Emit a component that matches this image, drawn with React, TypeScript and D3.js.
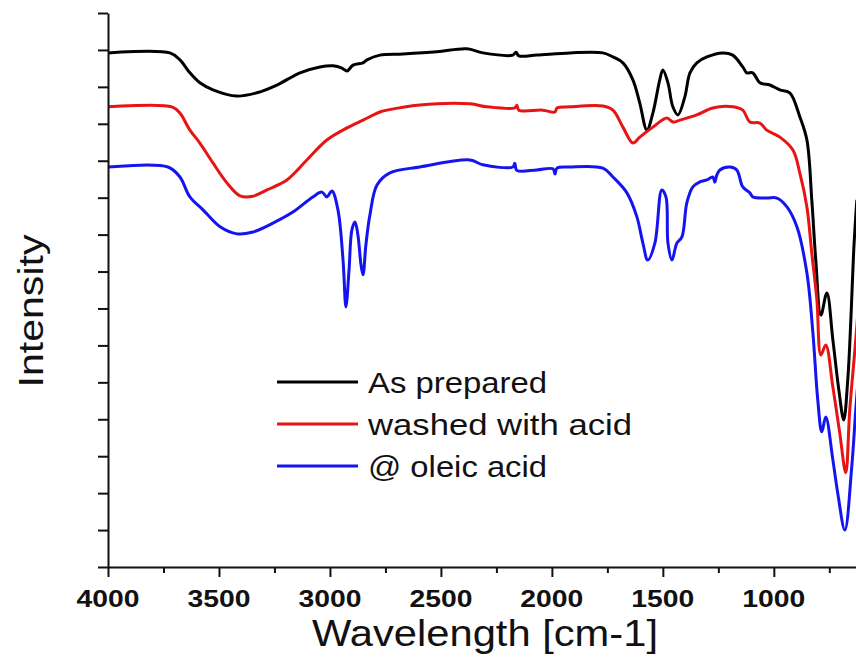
import React, { useEffect, useRef } from "react";
import * as d3 from "d3";

const WIDTH = 856;
const HEIGHT = 672;

const seriesNames = ["As prepared", "washed with acid", "@ oleic acid"];
const seriesColors = ["#000000", "#e81414", "#1414f0"];

// wavenumber [cm-1] and intensity (a.u.)
const asPreparedWn = [4000, 3721, 3676, 3631, 3586, 3527, 3419, 3329, 3239, 3135, 3045, 2986, 2946, 2923, 2896, 2851, 2833, 2775, 2671, 2518, 2383, 2311, 2176, 2162, 2149, 2068, 1919, 1770, 1725, 1680, 1635, 1604, 1572, 1545, 1514, 1500, 1477, 1455, 1432, 1401, 1378, 1347, 1302, 1230, 1185, 1140, 1122, 1095, 1063, 1018, 973, 928, 883, 851, 829, 811, 788, 761, 734, 707, 685, 667, 653, 640, 626];
const asPreparedI = [13.92, 13.92, 13.73, 13.38, 13.11, 12.92, 12.75, 12.84, 13.05, 13.38, 13.54, 13.57, 13.51, 13.43, 13.59, 13.65, 13.73, 13.86, 13.89, 13.95, 14.03, 13.92, 13.86, 13.94, 13.84, 13.86, 13.92, 13.92, 13.81, 13.65, 13.19, 12.56, 11.83, 12.29, 13.19, 13.46, 13.11, 12.46, 12.24, 12.73, 13.38, 13.65, 13.81, 13.92, 13.86, 13.54, 13.38, 13.38, 13.11, 13.05, 12.92, 12.84, 12.19, 11.56, 9.94, 8.31, 6.82, 7.42, 6.15, 4.79, 3.98, 5.06, 6.69, 8.58, 9.94];

const washedWn = [4000, 3712, 3676, 3631, 3586, 3527, 3464, 3405, 3347, 3284, 3194, 3104, 3014, 2923, 2851, 2775, 2743, 2595, 2369, 2293, 2167, 2158, 2149, 2041, 1986, 1977, 1919, 1770, 1725, 1680, 1635, 1604, 1545, 1482, 1455, 1423, 1347, 1275, 1185, 1140, 1108, 1063, 1032, 973, 914, 883, 851, 829, 806, 788, 766, 734, 703, 676, 658, 631, 617];
const washedI = [12.46, 12.46, 12.29, 11.83, 11.48, 10.94, 10.4, 10.05, 10.04, 10.21, 10.48, 11.02, 11.56, 11.89, 12.1, 12.32, 12.37, 12.51, 12.54, 12.46, 12.43, 12.5, 12.37, 12.37, 12.32, 12.43, 12.46, 12.48, 12.37, 11.91, 11.48, 11.64, 11.91, 12.16, 12.05, 12.1, 12.24, 12.43, 12.46, 12.37, 12.05, 12.02, 11.83, 11.64, 11.29, 10.67, 9.75, 8.5, 7.23, 5.74, 6.01, 4.87, 3.63, 2.55, 4.25, 6.15, 7.23];

const oleicWn = [4000, 3730, 3676, 3631, 3572, 3495, 3419, 3347, 3257, 3167, 3077, 3036, 3014, 2991, 2964, 2941, 2928, 2914, 2901, 2887, 2874, 2860, 2851, 2838, 2820, 2788, 2730, 2595, 2369, 2311, 2176, 2167, 2158, 2068, 1995, 1986, 1977, 1919, 1770, 1725, 1662, 1617, 1590, 1568, 1536, 1505, 1486, 1477, 1459, 1437, 1414, 1392, 1365, 1333, 1302, 1275, 1266, 1257, 1243, 1198, 1167, 1140, 1108, 1095, 1032, 986, 941, 896, 851, 824, 802, 784, 766, 734, 712, 680, 649, 631, 617];
const oleicI = [10.83, 10.83, 10.56, 10.02, 9.67, 9.21, 9.02, 9.07, 9.31, 9.61, 10.02, 10.15, 10.02, 10.18, 9.67, 8.31, 7.04, 8.04, 9.13, 9.34, 8.99, 8.18, 7.91, 8.72, 9.53, 10.34, 10.67, 10.83, 11.02, 10.89, 10.83, 10.93, 10.74, 10.75, 10.78, 10.64, 10.8, 10.83, 10.8, 10.56, 10.13, 9.48, 8.77, 8.31, 8.77, 10.21, 10.02, 8.77, 8.31, 8.77, 8.94, 9.86, 10.29, 10.43, 10.48, 10.56, 10.42, 10.61, 10.75, 10.83, 10.75, 10.29, 10.13, 10.02, 9.99, 9.99, 9.75, 9.21, 7.96, 6.34, 4.52, 3.66, 4.06, 2.9, 2.0, 1.0, 2.71, 4.25, 5.33];

const xMajorTicks = [4000, 3500, 3000, 2500, 2000, 1500, 1000];
const xMinorTicks = [3750, 3250, 2750, 2250, 1750, 1250, 750];
const yTicks = [0, 1, 2, 3, 4, 5, 6, 7, 8, 9, 10, 11, 12, 13, 14, 15];
const legendWidths = [179, 264, 179];

const FONT = "Arial, 'Liberation Sans', sans-serif";

const App = () => {
  const ref = useRef(null);

  useEffect(() => {
    const svg = d3.select(ref.current);
    svg.selectAll("*").remove();

    const x = d3.scaleLinear().domain([4000, 400]).range([108, 907]);
    const y = d3.scaleLinear().domain([0, 15]).range([567, 13]);

    svg.append("rect").attr("width", WIDTH).attr("height", HEIGHT).attr("fill", "#fff");

    svg
      .append("clipPath")
      .attr("id", "plot-clip")
      .append("rect")
      .attr("x", 108)
      .attr("y", 0)
      .attr("width", 800)
      .attr("height", 567);

    // spectra
    const series = [
      d3.zip(asPreparedWn, asPreparedI),
      d3.zip(washedWn, washedI),
      d3.zip(oleicWn, oleicI),
    ];
    const line = d3
      .line()
      .x((d) => x(d[0]))
      .y((d) => y(d[1]))
      .curve(d3.curveCatmullRom.alpha(0.5));

    svg
      .append("g")
      .attr("clip-path", "url(#plot-clip)")
      .selectAll("path")
      .data(series)
      .join("path")
      .attr("d", line)
      .attr("fill", "none")
      .attr("stroke", (d, i) => seriesColors[i])
      .attr("stroke-width", 3)
      .attr("stroke-linejoin", "round");

    // y axis, no labels
    const yAxis = svg
      .append("g")
      .attr("transform", "translate(108,0)")
      .call(d3.axisLeft(y).tickValues(yTicks).tickSize(10).tickSizeOuter(0).tickFormat(() => ""));

    // x axis: major + minor ticks
    const xAxis = svg
      .append("g")
      .attr("transform", "translate(0,567)")
      .call(d3.axisBottom(x).tickValues(xMajorTicks).tickSize(10).tickSizeOuter(0).tickFormat(() => ""));
    const xMinor = svg
      .append("g")
      .attr("transform", "translate(0,567)")
      .call(d3.axisBottom(x).tickValues(xMinorTicks).tickSize(6).tickSizeOuter(0).tickFormat(() => ""));
    xMinor.select(".domain").remove();

    [yAxis, xAxis, xMinor].forEach((g) => {
      g.selectAll("path, line").attr("stroke", "#111").attr("stroke-width", 2);
    });

    svg
      .append("g")
      .selectAll("text")
      .data(xMajorTicks)
      .join("text")
      .attr("x", (d) => x(d))
      .attr("y", 607)
      .attr("text-anchor", "middle")
      .attr("font-family", FONT)
      .attr("font-weight", "bold")
      .attr("font-size", 24)
      .attr("textLength", 63)
      .attr("lengthAdjust", "spacingAndGlyphs")
      .attr("fill", "#111")
      .text((d) => d);

    svg
      .append("text")
      .attr("x", 485)
      .attr("y", 646)
      .attr("text-anchor", "middle")
      .attr("font-family", FONT)
      .attr("font-size", 36)
      .attr("textLength", 346)
      .attr("lengthAdjust", "spacingAndGlyphs")
      .attr("fill", "#111")
      .text("Wavelength [cm-1]");

    svg
      .append("text")
      .attr("transform", "translate(43,311) rotate(-90)")
      .attr("text-anchor", "middle")
      .attr("font-family", FONT)
      .attr("font-size", 35)
      .attr("textLength", 153)
      .attr("lengthAdjust", "spacingAndGlyphs")
      .attr("fill", "#111")
      .text("Intensity");

    // legend
    const legend = svg
      .append("g")
      .selectAll("g")
      .data(seriesNames)
      .join("g")
      .attr("transform", (d, i) => `translate(0,${i * 42})`);

    legend
      .append("line")
      .attr("x1", 277)
      .attr("x2", 358)
      .attr("y1", 382)
      .attr("y2", 382)
      .attr("stroke", (d, i) => seriesColors[i])
      .attr("stroke-width", 3);

    legend
      .append("text")
      .attr("x", 368)
      .attr("y", 393)
      .attr("font-family", FONT)
      .attr("font-size", 30)
      .attr("textLength", (d, i) => legendWidths[i])
      .attr("lengthAdjust", "spacingAndGlyphs")
      .attr("fill", "#111")
      .text((d) => d);
  }, []);

  return (
    <svg
      ref={ref}
      width={WIDTH}
      height={HEIGHT}
      style={{ position: "absolute", left: 0, top: 0 }}
    />
  );
};

export default App;
